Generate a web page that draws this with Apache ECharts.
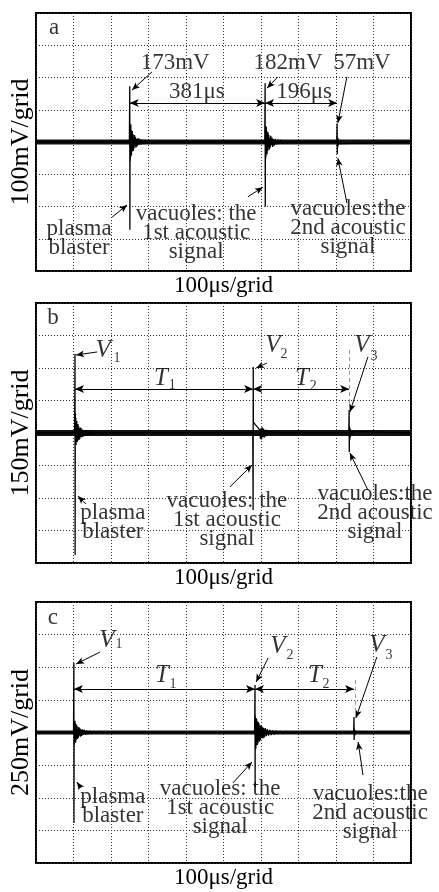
<!DOCTYPE html>
<html>
<head>
<meta charset="utf-8">
<script src="https://cdn.jsdelivr.net/npm/echarts@6/dist/echarts.min.js"></script>
<style>
html, body { margin: 0; background: #fff; }
#main { width: 439px; height: 892px; }
</style>
</head>
<body>
<div id="main"></div>
<script>
// 三个示波器面板 a / b / c
var panelNames = ['a', 'b', 'c'];
var voltPerGrid = [100, 150, 250];           // mV / grid
var yNames = ['100mV/grid', '150mV/grid', '250mV/grid'];
var xName = '100\u03bcs/grid';

// 波形 [时间 μs, 电压 mV]
var traceA = [[0, 0], [249, 0], [250, 173], [250.4, -272], [250.8, 45], [251.3, -60], [251.7, 30], [252.2, -48],
  [252.8, 55], [253.3, -25], [254, 38], [254.6, -42], [255.3, 20], [256, -30], [256.8, 34], [257.6, -18],
  [258.5, 25], [259.4, -28], [260.4, 15], [261.5, -20], [262.6, 22], [263.8, -12], [265, 16], [266.5, -18],
  [268, 10], [270, -13], [272, 12], [274.5, -9], [277, 10], [280, -8], [283, 7], [287, -6], [291, 6], [296, -5],
  [302, 4], [310, -3], [320, 0],
  [610, 0], [611, 182], [611.4, -200], [611.8, 40], [612.3, -52], [612.8, 28], [613.4, -45], [614, 48],
  [614.7, -22], [615.4, 35], [616.2, -38], [617, 18], [617.9, -28], [618.8, 30], [619.8, -15], [620.9, 22],
  [622, -24], [623.2, 12], [624.5, -18], [626, 19], [627.6, -10], [629.3, 14], [631, -15], [633, 9], [635.5, -11],
  [638, 10], [641, -8], [644.5, 7], [648, -6], [652, 6], [657, -5], [663, 4], [670, -3], [680, 0],
  [802, 0], [803, 57], [803.4, -37], [803.9, 15], [804.5, -18], [805.2, 12], [806, -10], [807, 7], [808.5, -5],
  [810, 0], [1000, 0]];
var traceB = [[0, 0], [103, 0], [104, 365], [104.3, -563], [104.7, 95], [105.2, 60], [105.7, -45], [106.2, 70],
  [106.8, -55], [107.4, 48], [108, -30], [108.7, 55], [109.4, -42], [110.2, 35], [111, -38], [111.9, 42],
  [112.8, -25], [113.8, 30], [114.8, -32], [116, 22], [117.2, -26], [118.5, 25], [120, -18], [121.5, 20],
  [123, -19], [125, 15], [127, -16], [129.5, 13], [132, -12], [135, 11], [138, -10], [142, 9], [146, -8],
  [151, 7], [157, -6], [164, 5], [172, -4], [182, 0],
  [578, 0], [579, -355], [579.3, 305], [579.6, 51], [584, 40], [592, 25], [597, 12], [598.5, -28], [600, 22],
  [601.5, -30], [603, 26], [604.8, -18], [606.5, 20], [608.5, -22], [610.5, 15], [613, -16], [615.5, 14],
  [618.5, -12], [622, 10], [626, -9], [630, 8], [635, -7], [641, 5], [648, 0],
  [834, 0], [835, 106], [835.4, -88], [835.9, 30], [836.5, -32], [837.2, 22], [838, -20], [839, 16],
  [840.2, -14], [841.6, 10], [843.2, -9], [845, 6], [848, 0], [1000, 0]];
var traceC = [[0, 0], [100, 0], [101, 533], [101.3, -694], [101.7, 80], [102.2, -95], [102.7, 60], [103.2, -75],
  [103.8, 90], [104.4, -50], [105, 70], [105.7, -78], [106.4, 45], [107.2, -55], [108, 62], [108.9, -35],
  [109.8, 48], [110.8, -50], [111.9, 30], [113, -40], [114.2, 42], [115.5, -25], [117, 32], [118.5, -33],
  [120, 22], [122, -26], [124, 24], [126.5, -18], [129, 20], [132, -17], [135, 14], [139, -13], [143, 11],
  [148, -10], [154, 8], [161, -6], [170, 5], [180, 0],
  [583, 0], [584, 364], [584.3, -418], [584.7, 130], [585.2, -110], [585.7, 95], [586.2, -125], [586.8, 80],
  [587.4, -100], [588, 110], [588.7, -75], [589.4, 90], [590.2, -95], [591, 70], [591.9, -85], [592.8, 80],
  [593.8, -60], [594.8, 68], [596, -70], [597.2, 52], [598.5, -58], [600, 55], [601.5, -42], [603, 46],
  [605, -45], [607, 36], [609, -38], [611.5, 34], [614, -28], [617, 26], [620, -24], [623.5, 20], [627, -19],
  [631, 16], [635.5, -15], [640, 12], [645, -11], [651, 9], [658, -7], [666, 6], [675, -4], [686, 0],
  [847, 0], [848, 119], [848.4, -58], [848.9, 28], [849.5, -24], [850.2, 18], [851, -16], [852, 12],
  [853.2, -9], [854.6, 7], [856.5, 0], [1000, 0]];
var traces = [traceA, traceB, traceC];

// 标注文字 [文字, μs, mV]
var textsA = [['a', 48, 353], ['173mV', 371, 245], ['182mV', 672, 245], ['57mV', 869, 245],
  ['381\u03bcs', 429, 155], ['196\u03bcs', 715, 155], ['plasma\nblaster', 115, -298],
  ['vacuoles: the\n1st acoustic\nsignal', 427, -282], ['vacuoles:the\n2nd acoustic\nsignal', 832, -267]];
var textsB = [['b', 45, 531], ['plasma\nblaster', 205, -411],
  ['vacuoles: the\n1st acoustic\nsignal', 509, -401], ['vacuoles:the\n2nd acoustic\nsignal', 904, -369]];
var textsC = [['c', 45, 878], ['plasma\nblaster', 205, -564],
  ['vacuoles: the\n1st acoustic\nsignal', 491, -579], ['vacuoles:the\n2nd acoustic\nsignal', 891, -618]];
var texts = [textsA, textsB, textsC];
// 斜体 V / T 及下标
var italicsB = [['V', 179, 383], ['T', 333, 254], ['V', 632, 406], ['T', 709, 254], ['V', 869, 406]];
var subsB = [['1', 216, 346], ['1', 363, 222], ['2', 661, 365], ['2', 739, 217], ['3', 901, 355]];
var italicsC = [['V', 189, 709], ['T', 336, 441], ['V', 645, 656], ['T', 744, 441], ['V', 909, 671]];
var subsC = [['1', 221, 672], ['1', 365, 372], ['2', 677, 594], ['2', 773, 372], ['3', 941, 594]];
var italics = [[], italicsB, italicsC];
var subs = [[], subsB, subsC];

// 箭头 [起 μs, 起 mV, 止 μs, 止 mV]
var pointersA = [[309, 217, 256, 161], [645, 202, 616, 167], [829, 202, 805, 59], [203, -233, 243, -195],
  [565, -170, 605, -140], [829, -189, 805, -50]];
var pointersB = [[163, 374, 107, 360], [616, 323, 587, 300], [885, 351, 837, 97], [885, -263, 837, -92],
  [133, -328, 112, -291], [517, -249, 576, -148]];
var pointersC = [[171, 617, 107, 525], [619, 571, 587, 387], [909, 579, 853, 111], [872, -326, 859, -73],
  [120, -426, 109, -380], [525, -387, 576, -226]];
var pointers = [pointersA, pointersB, pointersC];
// 双向箭头 [μs, μs, mV]
var spansA = [[250, 611, 121], [611, 803, 121]];
var spansB = [[104, 579, 203], [579, 835, 203]];
var spansC = [[101, 584, 333], [584, 848, 333]];
var spans = [spansA, spansB, spansC];
// 虚线 [μs, mV, mV]
var guides = [[], [[835, 383, 106]], [[850, 403, 119]]];

var font = "'Liberation Serif', 'DejaVu Serif', serif";
var tops = [13, 303, 602];
var heights = [258, 260, 261];
var bandWidths = [5, 6, 4];

var option = {
  backgroundColor: '#fff',
  animation: false,
  grid: [],
  xAxis: [],
  yAxis: [],
  series: []
};

function textSeries(i, list, style) {
  return {
    type: 'scatter',
    xAxisIndex: i,
    yAxisIndex: i,
    symbolSize: 1,
    itemStyle: { color: 'transparent' },
    silent: true,
    z: 5,
    label: Object.assign({
      show: true,
      position: 'inside',
      formatter: '{b}',
      color: '#000',
      fontFamily: font,
      align: 'center',
      verticalAlign: 'middle'
    }, style),
    data: list.map(function (d) {
      return { name: d[0], value: [d[1], d[2]] };
    })
  };
}

panelNames.forEach(function (p, i) {
  var v = voltPerGrid[i];
  option.grid.push({
    left: 36, width: 375, top: tops[i], height: heights[i],
    show: true, borderColor: '#000', borderWidth: 2, backgroundColor: 'transparent'
  });
  option.xAxis.push({
    gridIndex: i, type: 'value', min: 0, max: 1000, interval: 100,
    name: xName, nameLocation: 'middle', nameGap: 3,
    nameTextStyle: { fontFamily: font, fontSize: 23, color: '#000', verticalAlign: 'top' },
    axisLine: { show: false }, axisTick: { show: false }, axisLabel: { show: false },
    splitLine: { lineStyle: { color: '#333', width: 1, type: [1, 2] } }
  });
  option.yAxis.push({
    gridIndex: i, type: 'value', min: -4 * v, max: 4 * v, interval: v,
    name: yNames[i], nameLocation: 'middle', nameGap: 2,
    nameTextStyle: { fontFamily: font, fontSize: 26, color: '#000' },
    axisLine: { show: false }, axisTick: { show: false }, axisLabel: { show: false },
    splitLine: { lineStyle: { color: '#333', width: 1, type: [1, 2] } }
  });

  // 基线噪声带
  option.series.push({
    type: 'line', xAxisIndex: i, yAxisIndex: i, symbol: 'none', silent: true, z: 3,
    lineStyle: { color: '#111', width: bandWidths[i] },
    data: [[0, 0], [1000, 0]],
    markLine: {
      silent: true, symbol: ['arrow', 'arrow'], symbolSize: [6, 9],
      label: { show: false },
      lineStyle: { color: '#000', width: 1, type: 'solid' },
      data: spans[i].map(function (s) {
        return [{ coord: [s[0], s[2]] }, { coord: [s[1], s[2]] }];
      })
    }
  });
  // 波形
  option.series.push({
    type: 'line', xAxisIndex: i, yAxisIndex: i, symbol: 'none', silent: true, z: 4,
    lineStyle: { color: '#000', width: 1.3 },
    data: traces[i],
    markLine: {
      silent: true, symbol: ['none', 'arrow'], symbolSize: [5, 8],
      label: { show: false },
      lineStyle: { color: '#000', width: 1, type: 'solid' },
      data: pointers[i].map(function (s) {
        return [{ coord: [s[0], s[1]] }, { coord: [s[2], s[3]] }];
      })
    }
  });

  var ts = textSeries(i, texts[i], { fontSize: 23, lineHeight: 19 });
  ts.markLine = {
    silent: true, symbol: ['none', 'none'],
    label: { show: false },
    lineStyle: { color: '#999', width: 1, type: [4, 3] },
    data: guides[i].map(function (g) {
      return [{ coord: [g[0], g[1]] }, { coord: [g[0], g[2]] }];
    })
  };
  option.series.push(ts);
  option.series.push(textSeries(i, italics[i], { fontSize: 25, fontStyle: 'italic' }));
  option.series.push(textSeries(i, subs[i], { fontSize: 14 }));
});

var chart = echarts.init(document.getElementById('main'));
chart.setOption(option);
</script>
</body>
</html>
